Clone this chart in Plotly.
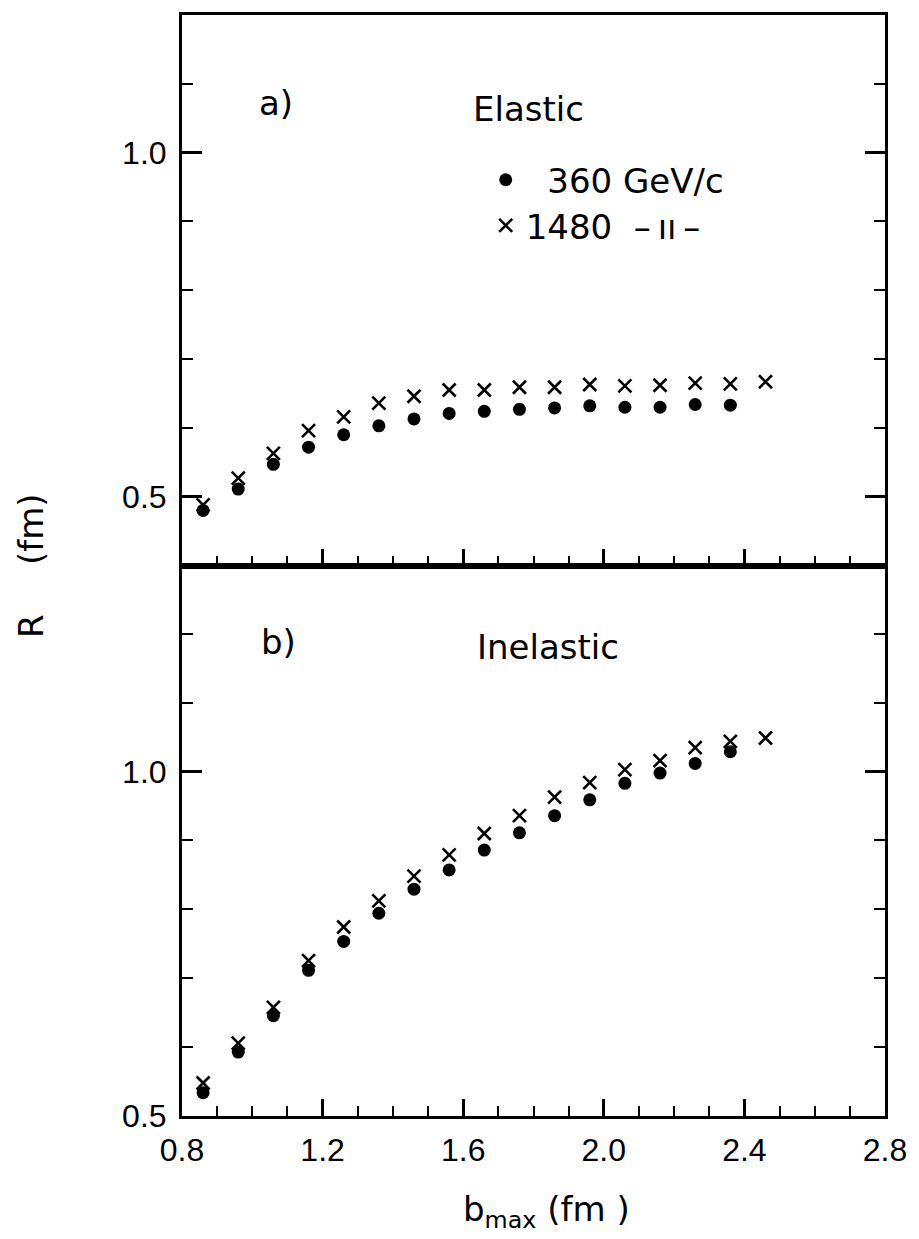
import plotly.graph_objects as go

# ---------------- data ----------------
b_max = [0.86, 0.96, 1.06, 1.16, 1.26, 1.36, 1.46, 1.56, 1.66,
         1.76, 1.86, 1.96, 2.06, 2.16, 2.26, 2.36, 2.46]

elastic_360 = [0.480, 0.511, 0.547, 0.572, 0.590, 0.603, 0.613, 0.621,
               0.624, 0.627, 0.629, 0.632, 0.630, 0.630, 0.634, 0.633]
elastic_1480 = [0.488, 0.527, 0.563, 0.596, 0.616, 0.636, 0.646, 0.655,
                0.655, 0.659, 0.659, 0.663, 0.661, 0.662, 0.665, 0.664, 0.667]

inelastic_360 = [0.533, 0.592, 0.645, 0.711, 0.753, 0.794, 0.829, 0.857,
                 0.886, 0.911, 0.936, 0.959, 0.983, 0.998, 1.012, 1.029]
inelastic_1480 = [0.547, 0.605, 0.657, 0.725, 0.774, 0.812, 0.848, 0.879,
                  0.910, 0.936, 0.963, 0.984, 1.003, 1.016, 1.035, 1.044, 1.049]

x_ticks = [0.8, 1.2, 1.6, 2.0, 2.4, 2.8]
x_ticktext = ["0.8", "1.2", "1.6", "2.0", "2.4", "2.8"]
y_ticks = [0.5, 1.0]
y_ticktext = ["0.5", "1.0"]

name_360 = "\u00a0\u00a0360\u00a0GeV/c"
name_1480 = "1480\u00a0\u00a0\u2013\u2009ıı\u2009\u2013"

# ---------------- style ----------------
TICK_FONT = "Liberation Sans, Arial, Helvetica, sans-serif"
TEXT_FONT = "DejaVu Sans, Verdana, sans-serif"
BLACK = "black"

dot_marker = dict(symbol="circle", size=13, color=BLACK)
cross_marker = dict(symbol="x-thin-open", size=13, color=BLACK,
                    line=dict(width=2.6, color=BLACK))

fig = go.Figure()

fig.add_trace(go.Scatter(x=b_max[:len(elastic_360)], y=elastic_360, mode="markers",
                         marker=dot_marker, xaxis="x", yaxis="y",
                         name=name_360, legend="legend", showlegend=True))
fig.add_trace(go.Scatter(x=b_max[:len(elastic_1480)], y=elastic_1480, mode="markers",
                         marker=cross_marker, xaxis="x", yaxis="y",
                         name=name_1480, legend="legend2", showlegend=True))
fig.add_trace(go.Scatter(x=b_max[:len(inelastic_360)], y=inelastic_360, mode="markers",
                         marker=dot_marker, xaxis="x2", yaxis="y2", showlegend=False))
fig.add_trace(go.Scatter(x=b_max[:len(inelastic_1480)], y=inelastic_1480, mode="markers",
                         marker=cross_marker, xaxis="x2", yaxis="y2", showlegend=False))

axis_common = dict(showline=True, linecolor=BLACK, linewidth=3, showgrid=False,
                   zeroline=False, ticks="inside", tickcolor=BLACK, tickwidth=2.5,
                   ticklabeloverflow="allow",
                   tickfont=dict(family=TICK_FONT, size=32, color=BLACK))

x_common = dict(axis_common, range=[0.8, 2.8], tickvals=x_ticks, ticktext=x_ticktext,
                ticklen=17, mirror=True,
                minor=dict(dtick=0.1, tick0=0.8, ticks="inside", ticklen=10,
                           tickwidth=2.2, tickcolor=BLACK, showgrid=False))

legend_common = dict(xanchor="left", yanchor="middle", bgcolor="rgba(0,0,0,0)",
                     borderwidth=0, font=dict(family=TEXT_FONT, size=34, color=BLACK))

fig.update_layout(
    width=919, height=1239,
    margin=dict(l=182, r=22, t=14, b=123),
    paper_bgcolor="white", plot_bgcolor="white",
    font=dict(family=TEXT_FONT, size=32, color=BLACK),
    xaxis=dict(x_common, anchor="y", showticklabels=False, matches="x2"),
    xaxis2=dict(x_common, anchor="y2", ticklabelstandoff=4),
    yaxis=dict(axis_common, domain=[0.5, 1.0], range=[0.4, 1.2], anchor="x",
               tickvals=y_ticks, ticktext=y_ticktext, ticklen=20, mirror="ticks",
               ticklabelstandoff=6,
               minor=dict(dtick=0.1, tick0=0.4, ticks="inside", ticklen=11,
                          tickwidth=2.2, tickcolor=BLACK, showgrid=False)),
    yaxis2=dict(axis_common, domain=[0.0, 0.5], range=[0.499, 1.3], anchor="x2",
                tickvals=y_ticks, ticktext=y_ticktext, ticklen=20, mirror="ticks",
                ticklabelstandoff=6,
                minor=dict(dtick=0.1, tick0=0.5, ticks="inside", ticklen=11,
                           tickwidth=2.2, tickcolor=BLACK, showgrid=False)),
    legend=dict(legend_common, x=0.432, y=0.850),
    legend2=dict(legend_common, x=0.432, y=0.8085),
)

ann_font = dict(family=TEXT_FONT, size=34, color=BLACK)
fig.add_annotation(text="a)", x=1.066, y=1.072, xref="x", yref="y",
                   showarrow=False, font=ann_font)
fig.add_annotation(text="Elastic", x=1.785, y=1.064, xref="x", yref="y",
                   showarrow=False, font=ann_font)
fig.add_annotation(text="b)", x=1.075, y=1.189, xref="x2", yref="y2",
                   showarrow=False, font=ann_font)
fig.add_annotation(text="Inelastic", x=1.84, y=1.181, xref="x2", yref="y2",
                   showarrow=False, font=ann_font)
fig.add_annotation(text="b<sub>max</sub> (fm )", x=0.519, y=-0.0871,
                   xref="paper", yref="paper", xanchor="center", yanchor="middle",
                   showarrow=False, font=ann_font)
fig.add_annotation(text="R", x=-0.215, y=0.445, xref="paper", yref="paper",
                   xanchor="center", yanchor="middle",
                   showarrow=False, textangle=-90, font=ann_font)
fig.add_annotation(text="(fm)", x=-0.215, y=0.533, xref="paper", yref="paper",
                   xanchor="center", yanchor="middle",
                   showarrow=False, textangle=-90, font=ann_font)

fig.write_html("out.html")
